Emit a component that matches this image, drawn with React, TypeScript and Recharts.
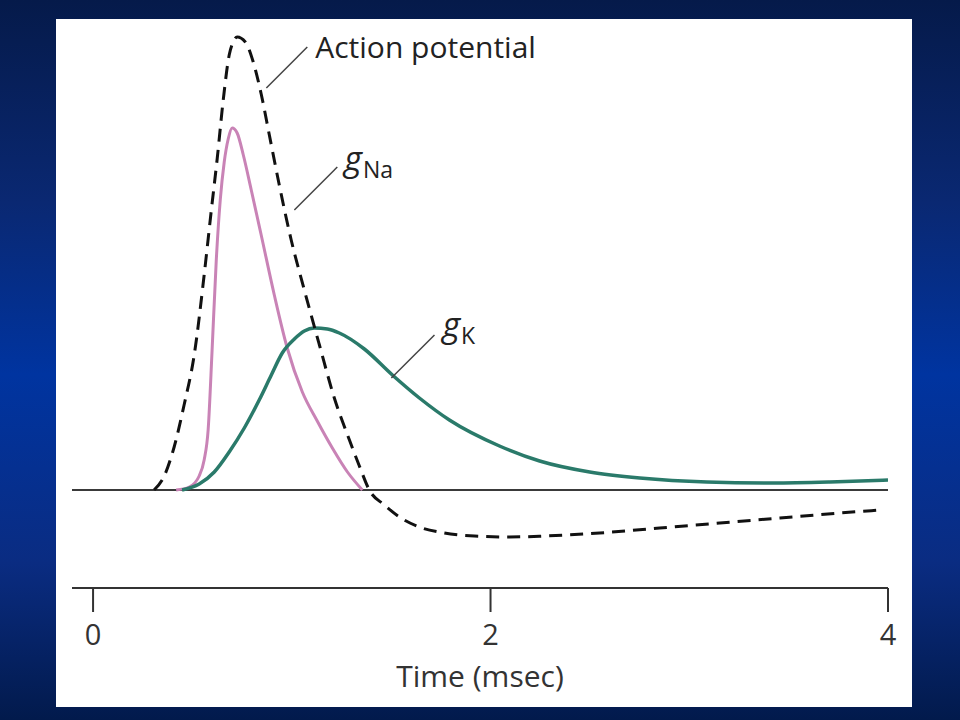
import { LineChart, Line, XAxis, YAxis, ReferenceLine, ReferenceDot } from 'recharts'

// time in msec, value in arbitrary units (0 = resting level)
const apTime = [0.307, 0.358, 0.408, 0.458, 0.509, 0.559, 0.594, 0.625, 0.655, 0.685, 0.705, 0.725, 0.766, 0.806, 0.846, 0.887, 0.937, 0.997, 1.063, 1.139, 1.214, 1.29, 1.34, 1.39, 1.466, 1.542, 1.642, 1.768, 1.919, 2.096, 2.272, 2.549, 2.851, 3.154, 3.456, 3.758, 3.96]
const apValue = [0, 2.8, 8.6, 17, 27, 43, 55.6, 66.4, 78, 87, 89.6, 90.6, 89.6, 85.6, 79.2, 71, 61, 50, 40, 29, 18.4, 10, 4.8, 0, -3, -5.4, -7.4, -8.6, -9.2, -9.4, -9.2, -8.6, -7.6, -6.6, -5.6, -4.6, -4]

const naTime = [0.418, 0.484, 0.534, 0.559, 0.579, 0.599, 0.62, 0.64, 0.66, 0.68, 0.7, 0.725, 0.756, 0.796, 0.846, 0.912, 0.977, 1.053, 1.128, 1.204, 1.28, 1.355]
const naValue = [0, 0.6, 2.8, 6, 12, 28, 46, 58, 65.6, 70.2, 72.4, 71.4, 67, 60, 51, 39, 28.4, 19.6, 13.8, 8.4, 3.6, 0]

const kTime = [0.448, 0.534, 0.61, 0.685, 0.761, 0.836, 0.897, 0.952, 1.013, 1.063, 1.113, 1.179, 1.239, 1.365, 1.506, 1.642, 1.793, 2.045, 2.247, 2.499, 2.751, 3.088, 3.421, 3.708, 4.0]
const kValue = [0, 1.2, 3.6, 7.6, 12.4, 18, 23, 27.4, 30.2, 31.8, 32.4, 32.2, 31.4, 28.2, 23, 18.4, 14, 8.8, 5.8, 3.6, 2.4, 1.6, 1.4, 1.6, 2]

const timeTicks = [0, 2, 4]

const toPoints = (ts: number[], vs: number[]) => ts.map((t, i) => ({ t, v: vs[i] }))
const apData = toPoints(apTime, apValue)
const naData = toPoints(naTime, naValue)
const kData = toPoints(kTime, kValue)

// callouts: leader line (from -> to) and label anchor, in data units
const callouts = [
  { name: 'Action potential', sub: '', from: { t: 0.872, v: 80.4 }, to: { t: 1.078, v: 88.6 }, at: { t: 1.118, v: 86.4 } },
  { name: 'g', sub: 'Na', from: { t: 1.013, v: 56 }, to: { t: 1.229, v: 64.6 }, at: { t: 1.264, v: 63.8 } },
  { name: 'g', sub: 'K', from: { t: 1.501, v: 22.4 }, to: { t: 1.718, v: 31 }, at: { t: 1.758, v: 30.6 } },
]

const FONT = '"Open Sans", "Liberation Sans", sans-serif'

function CalloutText({ cx, cy, name, sub }: any) {
  if (!sub) {
    return (
      <text x={cx} y={cy} fill="#222" fontSize={30} fontFamily={FONT}>
        {name}
      </text>
    )
  }
  return (
    <text x={cx} y={cy} fill="#222" fontFamily={FONT}>
      <tspan fontSize={34} fontStyle="italic">{name}</tspan>
      <tspan fontSize={23} dy={7} dx={1}>{sub}</tspan>
    </text>
  )
}

export default function App() {
  return (
    <div
      style={{
        position: 'fixed',
        left: 0,
        top: 0,
        width: 960,
        height: 720,
        overflow: 'hidden',
        fontFamily: FONT,
        background: 'linear-gradient(to bottom, #051a4a 0%, #0a2872 28%, #0034a0 52%, #0a2c82 78%, #021a4c 100%)',
      }}
    >
      <div style={{ position: 'absolute', left: 56, top: 19, width: 856, height: 688, background: '#fff' }} />
      <div style={{ position: 'absolute', left: 0, top: 0 }}>
        <LineChart width={960} height={720} margin={{ top: 30, right: 72, bottom: 32, left: 72 }}>
          <XAxis
            type="number"
            dataKey="t"
            domain={[-0.106, 4]}
            ticks={timeTicks}
            allowDataOverflow
            height={100}
            tickSize={24}
            tickMargin={12}
            axisLine={{ stroke: '#333', strokeWidth: 2 }}
            tickLine={{ stroke: '#333', strokeWidth: 2 }}
            tick={{ fill: '#333', fontSize: 29, fontFamily: FONT }}
            label={{ value: 'Time (msec)', position: 'insideBottom', offset: 1, fill: '#333', fontSize: 30, fontFamily: FONT }}
          />
          <YAxis type="number" domain={[-19.6, 92]} hide allowDataOverflow />
          <ReferenceLine y={0} stroke="#3a3a3a" strokeWidth={2} />
          <Line data={naData} dataKey="v" type="monotone" stroke="#c983b6" strokeWidth={3} dot={false} isAnimationActive={false} />
          <Line data={kData} dataKey="v" type="monotone" stroke="#2a7a6a" strokeWidth={3.5} dot={false} isAnimationActive={false} />
          <Line
            data={apData}
            dataKey="v"
            type="monotone"
            stroke="#111"
            strokeWidth={3}
            strokeDasharray="13 8"
            dot={false}
            isAnimationActive={false}
          />
          {callouts.map((c) => (
            <ReferenceLine
              key={c.name + c.sub + 'line'}
              segment={[{ x: c.from.t, y: c.from.v }, { x: c.to.t, y: c.to.v }]}
              stroke="#444"
              strokeWidth={1.5}
            />
          ))}
          {callouts.map((c) => (
            <ReferenceDot
              key={c.name + c.sub + 'label'}
              x={c.at.t}
              y={c.at.v}
              r={0}
              shape={(p: any) => <CalloutText cx={p.cx} cy={p.cy} name={c.name} sub={c.sub} />}
            />
          ))}
        </LineChart>
      </div>
    </div>
  )
}
